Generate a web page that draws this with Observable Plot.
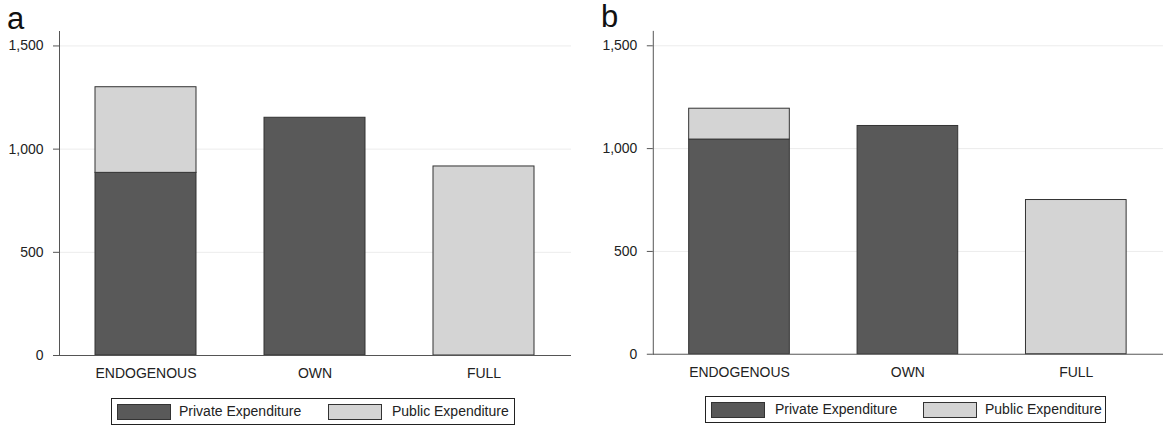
<!DOCTYPE html>
<html>
<head>
<meta charset="utf-8">
<script src="https://cdn.jsdelivr.net/npm/d3@7"></script>
<script src="https://cdn.jsdelivr.net/npm/@observablehq/plot@0.6"></script>
<style>
  html, body { margin: 0; padding: 0; background: #fff; overflow: hidden; }
  #root { position: relative; width: 1163px; height: 426px; font-family: "Liberation Sans", Arial, sans-serif; color: #222; }
  .panel { position: absolute; top: 0; }
  .tag { position: absolute; font-size: 31px; line-height: 1; color: #111; }
  .legend { position: absolute; box-sizing: border-box; border: 1px solid #222; height: 27px; font-size: 14px; }
  .sw { position: absolute; box-sizing: border-box; width: 54px; height: 16px; border: 1px solid #333; top: 5px; }
  .lt { position: absolute; top: 4px; white-space: nowrap; line-height: 17px; }
</style>
</head>
<body>
<div id="root"></div>
<script>
const categories = ["ENDOGENOUS", "OWN", "FULL"];
const seriesNames = ["Private Expenditure", "Public Expenditure"];
const privateA = [885, 1152, 0];
const publicA = [415, 0, 916];
const privateB = [1044, 1110, 0];
const publicB = [150, 0, 750];
const yTicks = [0, 500, 1000, 1500];
const panelLabels = ["a", "b"];

const root = document.getElementById("root");

function buildRows(priv, pub) {
  const rows = [];
  categories.forEach((c, i) => {
    if (priv[i] > 0) rows.push({cat: c, type: seriesNames[0], value: priv[i]});
    if (pub[i] > 0) rows.push({cat: c, type: seriesNames[1], value: pub[i]});
  });
  return rows;
}

function drawPanel(priv, pub, left, tag, tagPos, legendPos) {
  const rows = buildRows(priv, pub);
  const chart = Plot.plot({
    width: 571,
    height: 390,
    marginLeft: 59,
    marginRight: 0,
    marginTop: 31,
    marginBottom: 35,
    style: {fontFamily: "Liberation Sans, Arial, sans-serif", fontSize: "14px", color: "#222", background: "transparent", overflow: "visible"},
    x: {domain: categories, paddingInner: 0.4, paddingOuter: 0.206, label: null},
    y: {domain: [0, 1570], label: null},
    color: {domain: seriesNames, range: ["#595959", "#d4d4d4"]},
    marks: [
      Plot.gridY([500, 1000, 1500], {stroke: "#ececec", strokeOpacity: 1}),
      Plot.barY(rows, {x: "cat", y: "value", fill: "type", stroke: "#333", strokeWidth: 1}),
      Plot.ruleY([0], {stroke: "#555"}),
      Plot.frame({anchor: "left", stroke: "#555"}),
      Plot.axisY({ticks: yTicks, tickFormat: d3.format(","), tickSize: 6, tickPadding: 10, label: null, stroke: "#555"}),
      Plot.axisX({tickSize: 0, tickPadding: 13, label: null})
    ]
  });
  const wrap = document.createElement("div");
  wrap.className = "panel";
  wrap.style.left = left + "px";
  wrap.appendChild(chart);
  root.appendChild(wrap);

  const t = document.createElement("div");
  t.className = "tag";
  t.textContent = tag;
  t.style.left = tagPos[0] + "px";
  t.style.top = tagPos[1] + "px";
  root.appendChild(t);

  const lg = document.createElement("div");
  lg.className = "legend";
  lg.style.left = legendPos.left + "px";
  lg.style.top = legendPos.top + "px";
  lg.style.width = legendPos.width + "px";
  const fills = ["#595959", "#d4d4d4"];
  seriesNames.forEach((name, i) => {
    const sw = document.createElement("div");
    sw.className = "sw";
    sw.style.left = legendPos.sw[i] + "px";
    sw.style.background = fills[i];
    lg.appendChild(sw);
    const tx = document.createElement("div");
    tx.className = "lt";
    tx.style.left = legendPos.tx[i] + "px";
    tx.textContent = name;
    lg.appendChild(tx);
  });
  root.appendChild(lg);
}

drawPanel(privateA, publicA, 0, panelLabels[0], [7, 3],
  {left: 111, top: 398, width: 404, sw: [5, 216], tx: [67, 280]});
drawPanel(privateB, publicB, 594, panelLabels[1], [601, 1],
  {left: 705, top: 396, width: 401, sw: [5, 217], tx: [69, 279]});
</script>
</body>
</html>
